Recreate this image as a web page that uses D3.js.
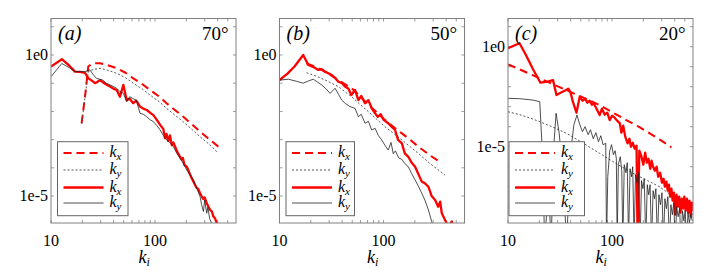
<!DOCTYPE html>
<meta charset="utf-8">
<body style="margin:0">
<script src="https://cdn.jsdelivr.net/npm/d3@7"></script>
<script>

// spectra, stored as [k, log10(E)]

// (a) 70 deg
var aKxDash = [[19.7,-2.42],[21.5,-1.3],[22.8,-0.41],[25,-0.3],[29.6,-0.29],[35,-0.36],[42.8,-0.47],[52,-0.63],[61.8,-0.83],[75,-1.03],[89.5,-1.24],[110,-1.48],[129,-1.71],[155,-1.95],[187,-2.19],[225,-2.45],[271,-2.72],[330,-2.98],[406,-3.25]];
var aKyDot = [[19.7,-2.45],[22.8,-0.6],[24.6,-0.53],[29.6,-0.47],[35,-0.54],[42.8,-0.65],[52,-0.81],[61.8,-1.0],[75,-1.2],[89.5,-1.42],[110,-1.66],[129,-1.89],[155,-2.13],[187,-2.37],[225,-2.63],[271,-2.9],[330,-3.16],[393,-3.43]];
var aKxSolid = [[10,-0.41],[12.7,-0.15],[15,-0.38],[17,-0.59],[19,-0.6],[21.2,-0.63],[22.9,-0.83],[24.5,-0.9],[26.5,-1.0],[28,-0.95],[29.6,-0.89],[33,-1.02],[36.9,-1.12],[40,-1.2],[42.8,-1.24],[46,-1.48],[49.6,-1.06],[53.4,-1.6],[57,-1.55],[61.8,-1.71],[66,-1.62],[71.8,-1.83],[77,-1.9],[83.2,-1.95],[90,-2.05],[96.4,-2.13],[104,-2.3],[112,-2.48],[120,-2.62],[125,-2.95],[129,-2.8],[134,-3.05],[139,-2.85],[145,-3.2],[150,-3.1],[160,-3.35],[167,-3.5],[174,-3.61],[180,-3.7],[185,-3.65],[192,-3.9],[202,-3.96],[215,-4.2],[224,-4.35],[234,-4.49],[242,-4.6],[250,-4.7],[260,-4.75],[271,-4.9],[280,-5.0],[290,-5.1],[300,-5.05],[314,-5.26],[328,-5.4],[340,-5.5],[352,-5.55],[364,-5.73],[378,-5.8],[392,-5.96],[420,-6.2]];
var aKySolid = [[10,-0.77],[12.7,-0.3],[15,-0.45],[17,-0.59],[21.2,-0.59],[23.6,-0.53],[25.5,-0.7],[27.4,-0.83],[31.5,-0.89],[34,-1.0],[36.9,-1.06],[42.8,-1.18],[46,-1.3],[49.6,-1.36],[53.4,-1.66],[57,-1.48],[61.8,-1.55],[66,-1.6],[71.8,-2.07],[77,-2.1],[83.2,-2.19],[90,-2.3],[96.4,-2.36],[104,-2.5],[112,-2.66],[120,-2.85],[129,-3.01],[139,-3.1],[150,-3.25],[160,-3.45],[174,-3.66],[187,-3.85],[202,-4.08],[218,-4.25],[234,-4.43],[250,-4.7],[271,-5.02],[280,-5.3],[292,-5.55],[300,-5.14],[314,-5.61],[322,-5.4],[335,-5.8],[350,-5.96],[380,-6.2]];

// (b) 50 deg
var bKxDash = [[18.2,-0.3],[21.5,-0.4],[25.4,-0.53],[30.5,-0.7],[36.8,-0.89],[42.5,-1.03],[49.4,-1.18],[59,-1.45],[71.5,-1.77],[86,-2.03],[103,-2.3],[125,-2.55],[150,-2.78],[180,-3.0],[216,-3.25],[270,-3.52],[363,-3.84]];
var bKyDot = [[18.2,-0.63],[21.5,-0.72],[25.4,-0.83],[30.5,-0.97],[36.8,-1.12],[42.5,-1.3],[49.4,-1.48],[59,-1.74],[71.5,-2.01],[86,-2.28],[103,-2.54],[125,-2.78],[150,-3.01],[180,-3.25],[216,-3.49],[280,-3.85],[390,-4.26]];
var bKxSolid = [[10,-0.89],[12,-0.65],[14,-0.4],[16.9,0.0],[18.9,-0.35],[21,-0.42],[23.6,-0.53],[25.5,-0.5],[27.4,-0.59],[31.8,-0.71],[34,-0.8],[36.8,-0.95],[40,-1.0],[42.6,-1.12],[46,-1.2],[49,-1.42],[53.2,-1.24],[57.3,-1.6],[61,-1.45],[66.4,-1.71],[71.5,-1.6],[77,-1.89],[83,-2.07],[88,-2.19],[94,-2.1],[100,-2.3],[111,-2.42],[120,-2.55],[129,-2.66],[138,-3.01],[150,-3.13],[160,-3.49],[173,-3.61],[185,-3.8],[201,-3.96],[215,-4.2],[233,-4.49],[250,-4.55],[270,-4.67],[290,-5.0],[313,-5.14],[335,-5.38],[350,-5.2],[363,-5.61],[390,-5.85],[420,-6.1],[453,-5.9],[470,-6.3]];
var bKySolid = [[10,-0.89],[12.2,-0.86],[14.5,-0.93],[16.9,-1.0],[19,-0.92],[21.1,-0.86],[23,-0.95],[25.4,-1.06],[28,-1.2],[30.6,-1.36],[34.2,-1.18],[37,-1.4],[39.6,-1.6],[43,-1.72],[47.6,-1.83],[53.2,-1.89],[57.3,-2.19],[61,-2.1],[66.4,-2.42],[71.5,-2.35],[77,-2.66],[83,-2.6],[89,-2.85],[96,-3.01],[103,-3.2],[111,-3.37],[118,-3.1],[124,-3.5],[130,-3.4],[140,-3.65],[150,-3.7],[160,-3.85],[173,-3.96],[186,-4.2],[201,-4.43],[216,-4.65],[233,-4.9],[250,-5.15],[270,-5.49],[290,-5.9],[310,-6.3]];

// (c) 20 deg
var cKxDash = [[10,-0.88],[13,-1.14],[17,-1.41],[22,-1.67],[28,-1.91],[36,-2.16],[50.6,-2.5],[63,-2.72],[76,-2.92],[100,-3.27],[137,-3.67],[180,-4.0],[230,-4.33],[295,-4.68],[372,-5.03]];
var cKyDot = [[10,-3.25],[13,-3.4],[16,-3.55],[20.2,-3.75],[27,-4.02],[36.4,-4.33],[50,-4.75],[76,-5.33],[110,-5.85],[159,-6.33],[220,-6.7],[286,-7.0],[386,-7.5],[500,-8.0],[600,-8.4]];
var cKxSolid = [[10,-0.08],[12.9,0.17],[15,-0.45],[17.5,-1.15],[20.5,-1.8],[24,-1.75],[27.1,-1.67],[29.2,-2.42],[32,-2.3],[35,-2.2],[38,-2.1],[40,-2.3],[42,-2.75],[45.5,-3.3],[48.9,-2.5],[52,-2.7],[55,-2.6],[58,-2.8],[61,-2.7],[64,-2.9],[67,-2.85],[71,-3.1],[76,-3.42],[80,-3.1],[85,-3.4],[90,-3.3],[95,-3.67],[100,-3.45],[106,-3.55],[112,-3.7],[119,-3.83],[123,-4.3],[128,-3.95],[134,-4.5],[141,-4.83],[147,-4.6],[152,-5.0],[158,-4.8],[165,-5.1],[172,-4.95],[176,-9.8],[183,-5.2],[192,-5.5],[200,-5.9],[208,-5.3],[216,-5.8],[224,-5.6],[233,-6.1],[240,-5.7],[248,-6.0],[258,-6.2],[268,-6.0],[278,-6.5],[290,-6.3],[302,-6.8],[313,-6.6],[322,-7.0],[333,-6.75],[343,-7.2],[352,-6.9],[362,-7.5],[372,-7.1],[382,-7.7],[393,-7.3],[405,-8.4],[417,-7.4],[430,-8.0],[442,-7.5],[455,-8.3],[468,-7.6],[482,-8.1],[495,-7.5],[510,-8.2],[525,-7.6],[540,-8.3],[555,-7.7],[570,-8.5],[585,-7.8],[600,-8.2]];
var cKySolid = [[10,-2.58],[13,-2.6],[17.4,-2.67],[20.2,-2.75],[21.5,-5.5],[22.5,-9.8],[24.5,-7],[26,-9.8],[27.5,-5],[29,-3.33],[31,-4.3],[33,-5.8],[35,-8],[36.7,-9.8],[38.5,-7],[40.6,-5],[43,-3.9],[46,-3.42],[49,-3.9],[52,-4.25],[55,-4.0],[59,-4.4],[62,-4.15],[66,-4.6],[70,-4.3],[74,-4.75],[78,-4.45],[82,-4.9],[87,-4.83],[88.5,-9.8],[91,-6.5],[95,-5.2],[99,-4.9],[103,-5.4],[107,-5.2],[110,-5.6],[112,-9.8],[115,-5.9],[120,-5.5],[124,-6.2],[127,-9.8],[131,-5.9],[136,-6.3],[140,-5.8],[144,-9.8],[149,-6.1],[154,-6.5],[158,-6.0],[163,-9.8],[168,-6.4],[174,-6.8],[180,-6.3],[186,-9.8],[192,-6.7],[198,-7.1],[204,-6.6],[211,-9.8],[218,-6.9],[225,-7.4],[232,-6.9],[240,-9.8],[248,-7.2],[256,-7.6],[264,-7.1],[273,-9.8],[282,-7.4],[292,-7.9],[302,-7.3],[312,-9.8],[322,-7.6],[333,-8.1],[344,-7.5],[356,-9.8],[368,-7.9],[380,-8.4],[392,-7.8],[405,-9.8],[418,-8.0],[432,-8.5],[446,-8.1],[460,-9.8],[475,-8.2],[490,-8.7],[505,-8.2],[520,-9.8],[537,-8.3],[554,-8.8],[571,-8.4],[590,-8.7]];

var panelTags = ["(a)", "(b)", "(c)"];
var panelAngles = ["70°", "50°", "20°"];
var xTickLabels = [10, 100];
var xMinorTicks = [20,30,40,50,60,70,80,90,200,300,400,500];
var yTickLabels = [[1, "1e0"], [1e-5, "1e-5"]];
var legendNames = ["x", "y", "x", "y"];

const width = 709, height = 275;
const pTop = 18.5, pBottom = 223, pW = 185;
const lefts = [51, 279.5, 508];
const xDomain = [10, 600];
const yDomains = [[-5.957, 1.294], [-5.957, 1.294], [-8.815, 1.41]];
const legendOffsets = [[6.5, 70.5], [6.5, 68.5], [1, 75.5]];

var styles = [
  { color: "#ff0000", width: 2,   dash: "8,5" },
  { color: "#444",    width: 0.9, dash: "2,2" },
  { color: "#ff0000", width: 2.3, dash: null },
  { color: "#222",    width: 0.8, dash: null }
];

var panelData = [
  [aKxDash, aKyDot, aKxSolid, aKySolid],
  [bKxDash, bKyDot, bKxSolid, bKySolid],
  [cKxDash, cKyDot, cKxSolid, cKySolid]
];

var svg = d3.select("body").append("svg")
  .attr("width", width)
  .attr("height", height);

var frameColor = "#808080";

function addText(x, y, size) {
  return svg.append("text")
    .attr("x", x).attr("y", y)
    .attr("font-family", "Liberation Serif")
    .attr("font-size", size);
}

panelData.forEach(function(series, p) {
  var L = lefts[p];
  var xScale = d3.scaleLog().domain(xDomain).range([L, L + pW]);
  var yScale = d3.scaleLog().domain([10 ** yDomains[p][0], 10 ** yDomains[p][1]]).range([pBottom, pTop]);

  var g = svg.append("g");

  g.append("clipPath").attr("id", "clip" + p)
    .append("rect")
    .attr("x", L).attr("y", pTop)
    .attr("width", pW).attr("height", pBottom - pTop);

  // ticks, inward, on all four sides
  var xt = xTickLabels.concat(xMinorTicks);
  g.selectAll(".xtb").data(xt).enter().append("line")
    .attr("x1", d => xScale(d)).attr("x2", d => xScale(d))
    .attr("y1", pBottom).attr("y2", pBottom - 3)
    .attr("stroke", frameColor).attr("stroke-width", 0.8);
  g.selectAll(".xtt").data(xt).enter().append("line")
    .attr("x1", d => xScale(d)).attr("x2", d => xScale(d))
    .attr("y1", pTop).attr("y2", pTop + 3)
    .attr("stroke", frameColor).attr("stroke-width", 0.8);

  var yt = d3.range(Math.ceil(yDomains[p][0]), Math.floor(yDomains[p][1]) + 1).map(e => 10 ** e);
  g.selectAll(".ytl").data(yt).enter().append("line")
    .attr("x1", L).attr("x2", L + 3)
    .attr("y1", d => yScale(d)).attr("y2", d => yScale(d))
    .attr("stroke", frameColor).attr("stroke-width", 0.8);
  g.selectAll(".ytr").data(yt).enter().append("line")
    .attr("x1", L + pW).attr("x2", L + pW - 3)
    .attr("y1", d => yScale(d)).attr("y2", d => yScale(d))
    .attr("stroke", frameColor).attr("stroke-width", 0.8);

  // curves
  var line = d3.line()
    .x(d => xScale(d[0]))
    .y(d => yScale(10 ** d[1]));

  var plot = g.append("g").attr("clip-path", "url(#clip" + p + ")");
  series.forEach(function(s, i) {
    plot.append("path")
      .datum(s)
      .attr("d", line)
      .attr("fill", "none")
      .attr("stroke", styles[i].color)
      .attr("stroke-width", styles[i].width)
      .attr("stroke-dasharray", styles[i].dash)
      .attr("stroke-linejoin", "round");
  });

  // frame
  g.append("rect")
    .attr("x", L).attr("y", pTop)
    .attr("width", pW).attr("height", pBottom - pTop)
    .attr("fill", "none")
    .attr("stroke", frameColor)
    .attr("stroke-width", 1);

  // legend box and sample lines
  var lx = L + legendOffsets[p][0], lw = legendOffsets[p][1];
  g.append("rect")
    .attr("x", lx).attr("y", 141.7).attr("width", lw).attr("height", 74)
    .attr("fill", "#fff").attr("stroke", "#666").attr("stroke-width", 1);
  var rowY = [153, 170, 187.5, 203];
  legendNames.forEach(function(n, i) {
    g.append("line")
      .attr("x1", lx + 6).attr("x2", lx + 46)
      .attr("y1", rowY[i]).attr("y2", rowY[i])
      .attr("stroke", styles[i].color)
      .attr("stroke-width", styles[i].width)
      .attr("stroke-dasharray", styles[i].dash);
  });

  // texts
  xTickLabels.forEach(function(d) {
    addText(xScale(d), 246, 16).attr("text-anchor", "middle").text(d);
  });
  yTickLabels.forEach(function(d) {
    addText(L - 3, yScale(d[0]) + 5, 16).attr("text-anchor", "end").text(d[1]);
  });

  var xl = addText(L + pW / 2 - 5, 263, 18).attr("font-style", "italic");
  xl.append("tspan").text("k");
  xl.append("tspan").attr("dy", 3).attr("font-size", 12).text("i");

  addText(L + 7, 40, 20).attr("font-style", "italic").text(panelTags[p]);
  addText(L + pW - 34, 40, 19).text(panelAngles[p]);

  legendNames.forEach(function(n, i) {
    var t = addText(lx + 52, rowY[i] + 4, 16).attr("font-style", "italic");
    t.append("tspan").text("k");
    t.append("tspan").attr("dy", 3).attr("font-size", 11).text(n);
  });
});

</script>
</body>
